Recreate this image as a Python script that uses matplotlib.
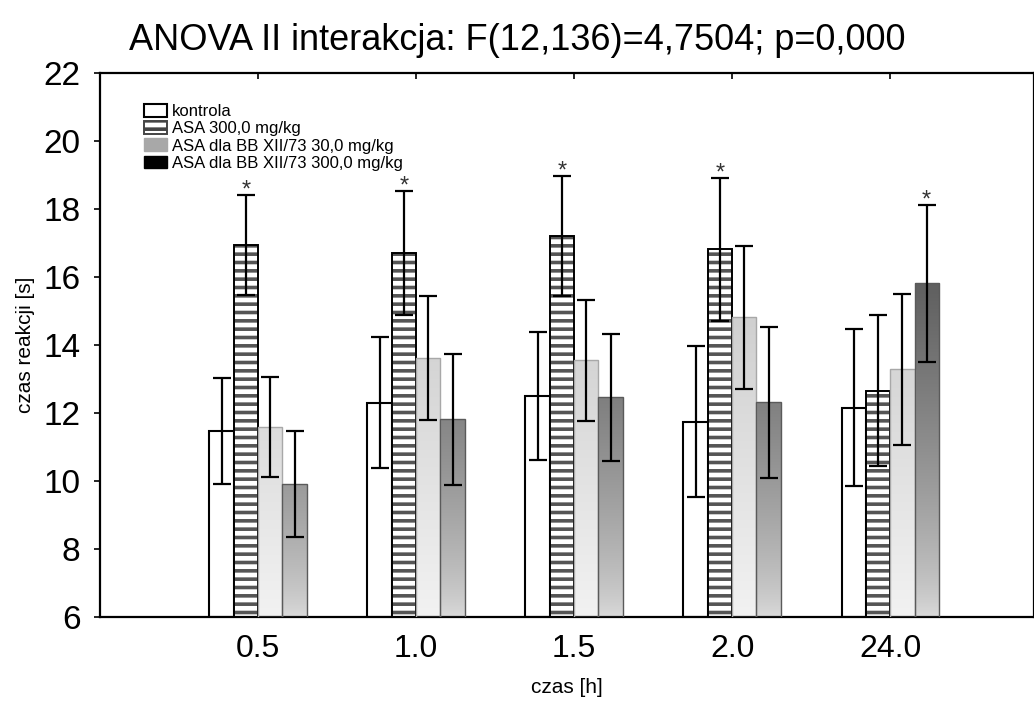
import numpy as np
import matplotlib
matplotlib.use('Agg')
import matplotlib.pyplot as plt
from matplotlib.patches import Patch

plt.rcParams['font.family'] = ['Liberation Sans', 'DejaVu Sans']
plt.rcParams['hatch.linewidth'] = 2.6

# dane
czas = ['0.5', '1.0', '1.5', '2.0', '24.0']
grupy = ['kontrola', 'ASA 300,0 mg/kg', 'ASA dla BB XII/73 30,0 mg/kg',
         'ASA dla BB XII/73 300,0 mg/kg']
kontrola = [11.47, 12.30, 12.50, 11.74, 12.16]
kontrola_err = [1.55, 1.93, 1.88, 2.22, 2.32]
asa300 = [16.95, 16.71, 17.21, 16.82, 12.66]
asa300_err = [1.47, 1.83, 1.77, 2.10, 2.22]
bb30 = [11.60, 13.61, 13.55, 14.81, 13.29]
bb30_err = [1.47, 1.83, 1.78, 2.10, 2.22]
bb300 = [9.90, 11.81, 12.46, 12.31, 15.81]
bb300_err = [1.56, 1.93, 1.87, 2.21, 2.32]
# gwiazdki istotnosci: (indeks grupy, indeks serii)
istotne = [(0, 1), (1, 1), (2, 1), (3, 1), (4, 3)]

y_min, y_max = 6, 22


def szary_ciemny(y):
    t = np.clip((y - 6) / 9.85, 0, 1.2)
    return (220 - 125 * t ** 0.7) / 255.0


def szary_jasny(y):
    return (242 - 3.86 * (y - 6)) / 255.0


fig = plt.figure(figsize=(10.34, 7.04), dpi=100)
ax = fig.add_axes([100 / 1034, 1 - 617 / 704, 1 - 100 / 1034, (617 - 73) / 704])

x = np.arange(len(czas))
w = 0.154
serie = [kontrola, asa300, bb30, bb300]
bledy = [kontrola_err, asa300_err, bb30_err, bb300_err]
offs = [-1.5 * w, -0.5 * w, 0.5 * w, 1.5 * w]

ax.bar(x + offs[0], np.array(kontrola) - y_min, w, bottom=y_min, color='white',
       edgecolor='black', linewidth=1.5, zorder=2)
# paski: szare kreskowanie, potem czarna ramka
ax.bar(x + offs[1], np.array(asa300) - y_min, w, bottom=y_min, color='white',
       edgecolor='#555555', linewidth=0, hatch='--', zorder=2)
ax.bar(x + offs[1], np.array(asa300) - y_min, w, bottom=y_min, facecolor='none',
       edgecolor='black', linewidth=1.4, zorder=3)

for vals, off, fn, ec in [(bb30, offs[2], szary_jasny, '#a8a8a8'),
                          (bb300, offs[3], szary_ciemny, '#5a5a5a')]:
    bars = ax.bar(x + off, np.array(vals) - y_min, w, bottom=y_min,
                  facecolor='none', edgecolor=ec, linewidth=1.0, zorder=3)
    for b, v in zip(bars, vals):
        ys = np.linspace(v, y_min, 200)
        g = fn(ys)
        img = np.repeat(g[:, None, None], 3, axis=2)
        x0 = b.get_x()
        im = ax.imshow(img, extent=[x0, x0 + w, y_min, v], aspect='auto',
                       origin='upper', zorder=2, interpolation='bilinear')
        im.set_clip_path(b)

for vals, errs, off in zip(serie, bledy, offs):
    ax.errorbar(x + off, vals, yerr=errs, fmt='none', ecolor='black',
                elinewidth=1.6, capsize=6.5, capthick=1.6, zorder=5)

for gi, si in istotne:
    yy = serie[si][gi] + bledy[si][gi]
    ax.annotate('*', (x[gi] + offs[si], yy), xytext=(0, 3), textcoords='offset points',
                ha='center', va='center', fontsize=17, color='#333333')

ax.set_xlim(-1.0, 4.91)
ax.set_ylim(y_min, y_max)
ax.set_yticks(range(6, 23, 2))
ax.set_xticks(x)
ax.set_xticklabels(czas)
ax.tick_params(axis='y', direction='out', length=4, width=1.2, labelsize=24, pad=10)
ax.tick_params(axis='x', direction='in', top=True, length=4, width=1.2,
               labelsize=23, pad=12)
for s in ax.spines.values():
    s.set_linewidth(1.6)

ax.set_ylabel('czas reakcji [s]', fontsize=15, labelpad=6)
ax.set_xlabel('czas [h]', fontsize=15, labelpad=10)
fig.suptitle('ANOVA II interakcja: F(12,136)=4,7504; p=0,000', fontsize=26, y=0.968)

uchwyty = [Patch(facecolor='white', edgecolor='black', linewidth=1.5),
           Patch(facecolor='white', edgecolor='#444444', linewidth=1.4, hatch='--'),
           Patch(facecolor='#a8a8a8', edgecolor='#a8a8a8'),
           Patch(facecolor='black', edgecolor='black')]
ax.legend(uchwyty, grupy, loc='upper left', bbox_to_anchor=(0.04, 0.955), frameon=False,
          fontsize=12, handlelength=1.35, handleheight=0.8, labelspacing=0.12,
          handletextpad=0.3, borderaxespad=0)

fig.savefig('out.png', dpi=100)
